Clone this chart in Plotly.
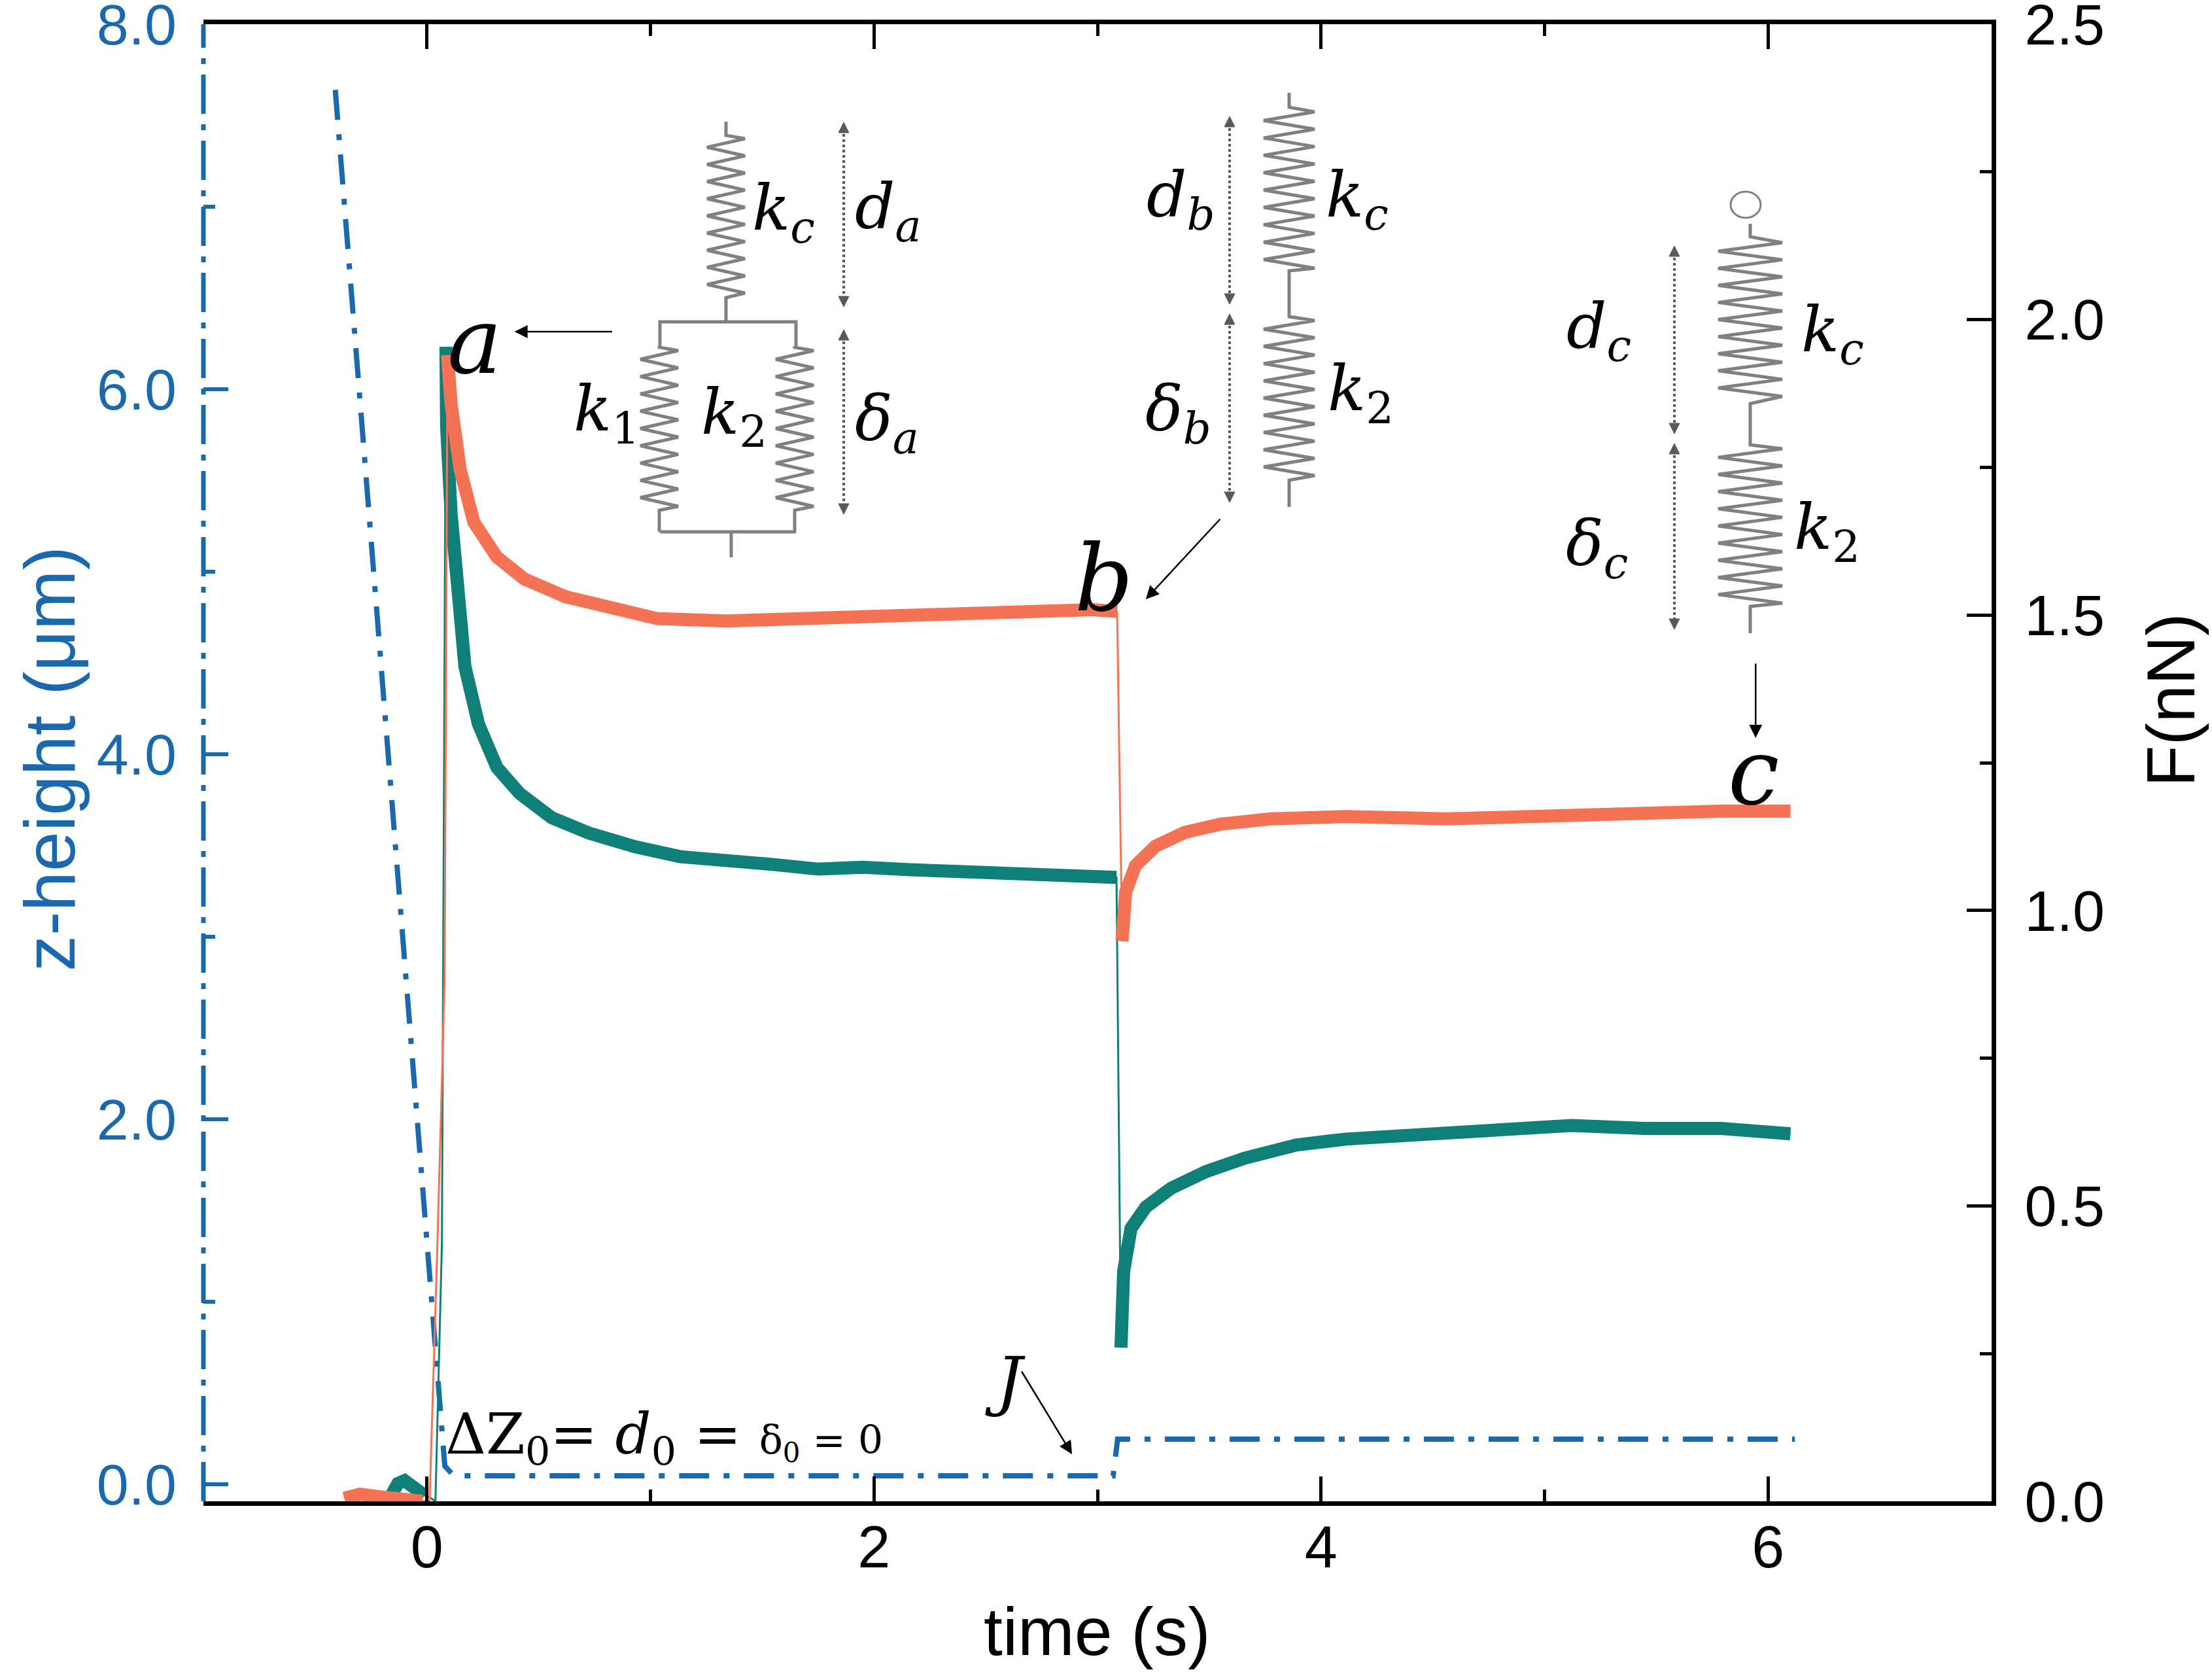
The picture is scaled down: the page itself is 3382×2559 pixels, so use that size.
import numpy as np
import plotly.graph_objects as go

# ---------------- data ----------------
t_orange = [-0.37, -0.30, -0.22, -0.15, -0.08, -0.02, 0.012, 0.047, 0.079, 0.092,
            0.108, 0.149, 0.21, 0.313, 0.436, 0.62, 0.83, 1.03, 1.34, 1.65,
            1.95, 2.37, 2.78, 2.98, 3.088, 3.11, 3.126, 3.17, 3.26, 3.39,
            3.55, 3.775, 4.11, 4.56, 5.0, 5.45, 5.79, 6.10]
f_orange = [0.005, 0.012, 0.008, 0.004, 0.002, 0.0, 0.0, 0.437, 0.88, 1.94,
            1.858, 1.746, 1.657, 1.598, 1.561, 1.531, 1.512, 1.494, 1.490, 1.494,
            1.498, 1.501, 1.506, 1.509, 1.506, 0.948, 1.031, 1.076, 1.109, 1.132,
            1.146, 1.155, 1.159, 1.155, 1.159, 1.168, 1.168, 1.168]

t_teal = [-0.16, -0.13, -0.10, -0.07, -0.04, -0.01, 0.02, 0.038, 0.067, 0.072,
          0.085, 0.088, 0.108, 0.129, 0.17, 0.23, 0.313, 0.415, 0.558, 0.725,
          0.93, 1.134, 1.34, 1.545, 1.75, 1.95, 2.16, 2.37, 2.57, 2.78,
          2.98, 3.085, 3.105, 3.117, 3.15, 3.216, 3.33, 3.485, 3.66, 3.89,
          4.11, 4.45, 4.78, 5.12, 5.45, 5.79, 6.10]
f_teal = [0.01, 0.03, 0.035, 0.025, 0.02, 0.01, 0.005, 0.0, 0.437, 0.88,
          1.954, 1.82, 1.672, 1.561, 1.413, 1.316, 1.242, 1.198, 1.157, 1.131,
          1.108, 1.091, 1.086, 1.078, 1.070, 1.073, 1.069, 1.066, 1.061, 1.057,
          1.056, 1.056, 0.26, 0.389, 0.462, 0.498, 0.53, 0.558, 0.581, 0.603,
          0.613, 0.622, 0.631, 0.636, 0.631, 0.631, 0.622]

t_z = [-0.41, 0.08, 0.12, 3.07, 3.09, 6.12]
z_height = [7.64, 0.10, 0.047, 0.047, 0.247, 0.247]

x_ticks = [0, 2, 4, 6]
z_ticks = [0, 2, 4, 6, 8]
f_ticks = [0.0, 0.5, 1.0, 1.5, 2.0, 2.5]

# ---------------- styles ----------------
BLUE = "#1a69af"
ORANGE = "#f57355"
TEAL = "#0f8078"
GRAY = "#808080"
DGRAY = "#595959"
SANS = "Liberation Sans, Arial, sans-serif"
SERIF = "DejaVu Serif, serif"

W, H = 3382, 2559
PL, PR, PT, PB = 311, 3045, 37, 2295


def px(X, Y):
    return (X - PL) / (PR - PL), (PB - Y) / (PB - PT)


def band_segments(t, f):
    t = np.array(t); f = np.array(f)
    peak = int(np.argmax(f))
    after = np.where(t > 3.0)[0]
    low = int(after[np.argmin(f[after])])
    pre = np.where(t <= 0.0)[0]
    xs, ys = [], []
    for sl in (slice(pre[0], pre[-1] + 1), slice(peak, low), slice(low, len(t))):
        xs += list(t[sl]) + [None]
        ys += list(f[sl]) + [None]
    return xs, ys


fig = go.Figure()

# z-height
fig.add_trace(go.Scatter(x=t_z, y=z_height, mode="lines", yaxis="y",
                         line=dict(color=BLUE, width=8, dash="46px,22px,9px,22px"),
                         showlegend=False, hoverinfo="skip"))
# forces: thin full line + thick noisy band
for t, f, c in ((t_teal, f_teal, TEAL), (t_orange, f_orange, ORANGE)):
    fig.add_trace(go.Scatter(x=t, y=f, mode="lines", yaxis="y2",
                             line=dict(color=c, width=3), showlegend=False, hoverinfo="skip"))
    bx, by = band_segments(t, f)
    fig.add_trace(go.Scatter(x=bx, y=by, mode="lines", yaxis="y2", connectgaps=False,
                             line=dict(color=c, width=20), showlegend=False, hoverinfo="skip"))

shapes = []


def add_path(points, color=GRAY, width=5):
    d = ""
    for i, (X, Y) in enumerate(points):
        u, v = px(X, Y)
        d += ("M" if i == 0 else "L") + f"{u:.5f},{v:.5f} "
    shapes.append(dict(type="path", path=d, xref="paper", yref="paper",
                       line=dict(color=color, width=width)))


def spring(xc, hw, lead_top, y0, y1, lead_bot, n=19):
    pts = [(xc, lead_top[0]), (xc, lead_top[1])]
    for i in range(n):
        pts.append((xc + hw if i % 2 == 0 else xc - hw, y0 + i * (y1 - y0) / (n - 1)))
    pts += [(xc, lead_bot[0]), (xc, lead_bot[1])]
    add_path(pts)


def dotted_arrow(X, Ya, Yb):
    u0, v0 = px(X, Ya + 10)
    u1, v1 = px(X, Yb - 10)
    shapes.append(dict(type="line", x0=u0, y0=v0, x1=u1, y1=v1, xref="paper", yref="paper",
                       line=dict(color=DGRAY, width=4, dash="dot")))
    for (yt, s) in ((Ya, 1), (Yb, -1)):
        pts = [px(X, yt), px(X - 8, yt + 16 * s), px(X + 8, yt + 16 * s)]
        d = "M" + " L".join(f"{a:.5f},{b:.5f}" for a, b in pts) + " Z"
        shapes.append(dict(type="path", path=d, xref="paper", yref="paper",
                           fillcolor=DGRAY, line=dict(color=DGRAY, width=1)))


# diagram a
spring(1110, 29, (186, 207), 212, 448, (455, 492))
add_path([(1009, 529), (1009, 492), (1217, 492), (1217, 529)])
spring(1008, 29, (529, 531), 536, 774, (780, 813))
spring(1215, 29, (529, 531), 536, 774, (780, 813))
add_path([(1009, 813), (1217, 813)])
add_path([(1118, 813), (1118, 852)])
dotted_arrow(1290, 187, 469)
dotted_arrow(1290, 504, 786)

# diagram b
spring(1971, 39, (142, 164), 171, 410, (414, 454))
add_path([(1971, 454), (1971, 481)])
spring(1971, 39, (481, 484), 490, 727, (734, 775))
dotted_arrow(1880, 178, 465)
dotted_arrow(1880, 480, 768)

# diagram c
cu0, cv0 = px(2646, 293)
cu1, cv1 = px(2692, 333)
shapes.append(dict(type="circle", x0=cu0, y0=cv1, x1=cu1, y1=cv0, xref="paper", yref="paper",
                   line=dict(color=GRAY, width=3)))
spring(2676, 49, (342, 362), 371, 606, (617, 678))
spring(2676, 49, (678, 680), 686, 922, (927, 968))
dotted_arrow(2560, 376, 663)
dotted_arrow(2560, 678, 962)

# left spine (dash-dot, blue)
shapes.append(dict(type="line", x0=0, x1=0, y0=0, y1=1, xref="paper", yref="paper",
                   line=dict(color=BLUE, width=7, dash="60px,16px,9px,16px")))

annotations = []


def label(text, X, Y, size, family=SERIF, color="black", xanchor="center", **kw):
    u, v = px(X, Y)
    annotations.append(dict(text=text, x=u, y=v, xref="paper", yref="paper", showarrow=False,
                            xanchor=xanchor, yanchor="middle",
                            font=dict(family=family, size=size, color=color), **kw))


def tdata(X):
    return (X - 653) / 342


def fdata(Y):
    return (PB - Y) / (PB - PT) * 2.5


def arrow(Xt, Yt, Xh, Yh):
    annotations.append(dict(text="", x=tdata(Xh), y=fdata(Yh), xref="x", yref="y2",
                            ax=tdata(Xt), ay=fdata(Yt), axref="x", ayref="y2",
                            showarrow=True, arrowhead=2, arrowsize=1.6, arrowwidth=2.5,
                            arrowcolor="black", standoff=0, startstandoff=0))


# big point labels
label("<i>a</i>", 725, 522, 140)
label("<i>b</i>", 1688, 884, 140)
label("<i>c</i>", 2681, 1180, 140)

# spring labels
S = 96
label("<i>k</i><sub><i>c</i></sub>", 1198, 324, S)
label("<i>d</i><sub><i>a</i></sub>", 1358, 322, S)
label("<i>k</i><sub>1</sub>", 927, 632, S)
label("<i>k</i><sub>2</sub>", 1122, 636, S)
label("<i>δ</i><sub><i>a</i></sub>", 1356, 646, S)
label("<i>d</i><sub><i>b</i></sub>", 1805, 305, S)
label("<i>k</i><sub><i>c</i></sub>", 2075, 305, S)
label("<i>δ</i><sub><i>b</i></sub>", 1801, 632, S)
label("<i>k</i><sub>2</sub>", 2080, 600, S)
label("<i>d</i><sub><i>c</i></sub>", 2444, 505, S)
label("<i>k</i><sub><i>c</i></sub>", 2802, 510, S)
label("<i>δ</i><sub><i>c</i></sub>", 2441, 838, S)
label("<i>k</i><sub>2</sub>", 2793, 812, S)

label("ΔZ<sub>0</sub>= <i>d</i><sub>0</sub> = <span style='font-size:60px'>δ<sub>0</sub> = 0</span>",
      679, 2198, 86, xanchor="left")
label("<i>J</i>", 1537, 2110, 100)

# arrows
arrow(938, 507, 787, 507)
arrow(1868, 792, 1753, 916)
arrow(2686, 1013, 2686, 1128)
arrow(1562, 2095, 1640, 2223)

# axis titles
label("z-height (μm)", 75, 1160, 110, family=SANS, color=BLUE, textangle=-90)
label("F(nN)", 3319, 1070, 104, family=SANS, textangle=-90)
label("time (s)", 1677, 2494, 104, family=SANS)

fig.update_layout(
    width=W, height=H, autosize=False,
    margin=dict(l=PL, r=W - PR, t=PT, b=H - PB, pad=0),
    plot_bgcolor="white", paper_bgcolor="white",
    shapes=shapes, annotations=annotations,
    xaxis=dict(range=[-1, 7], tickvals=x_ticks, ticktext=[str(v) for v in x_ticks],
               showgrid=False, zeroline=False, showline=True, linewidth=7, linecolor="black",
               mirror="ticks", ticks="inside", ticklen=38, tickwidth=5, tickcolor="black",
               minor=dict(ticks="inside", ticklen=18, tickwidth=5, dtick=1, tick0=0, tickcolor="black"),
               tickfont=dict(family=SANS, size=90, color="black"), ticklabelstandoff=-14,
               ticklabeloverflow="allow", automargin=False),
    yaxis=dict(range=[-0.0932, 8.0], tickvals=z_ticks, ticktext=[f"{v:.1f}" for v in z_ticks],
               showgrid=False, zeroline=False, showline=False,
               ticks="inside", ticklen=38, tickwidth=6, tickcolor=BLUE,
               minor=dict(ticks="inside", ticklen=18, tickwidth=6, dtick=1, tick0=0, tickcolor=BLUE),
               tickfont=dict(family=SANS, size=88, color=BLUE), ticklabelstandoff=40,
               ticklabeloverflow="allow", automargin=False),
    yaxis2=dict(range=[0, 2.5], tickvals=f_ticks, ticktext=[f"{v:.1f}" for v in f_ticks],
                overlaying="y", side="right", showgrid=False, zeroline=False,
                showline=True, linewidth=7, linecolor="black",
                ticks="inside", ticklen=38, tickwidth=5, tickcolor="black",
                minor=dict(ticks="inside", ticklen=18, tickwidth=5, dtick=0.25, tick0=0, tickcolor="black"),
                tickfont=dict(family=SANS, size=88, color="black"), ticklabelstandoff=26,
                ticklabeloverflow="allow", automargin=False),
)

fig.write_html("out.html", config={"displayModeBar": False},
               post_script="document.body.style.margin='0px';")
